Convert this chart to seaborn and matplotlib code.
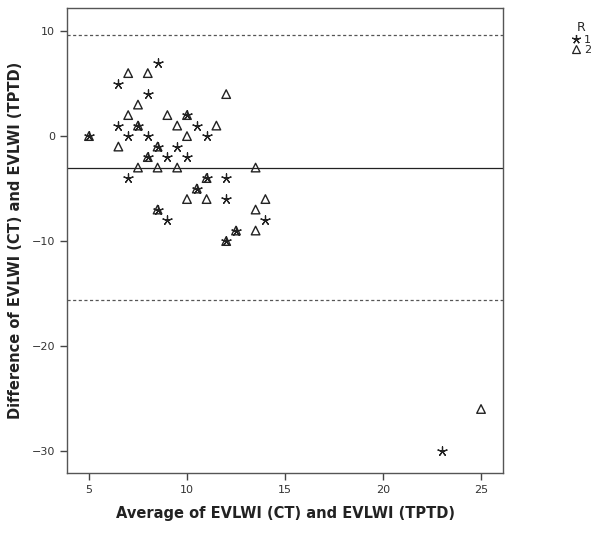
import pandas as pd
import matplotlib
matplotlib.use('Agg')
import matplotlib.pyplot as plt
from matplotlib.lines import Line2D
import seaborn as sns

# Bland-Altman data
star_avg = [8.5, 6.5, 8, 10, 6.5, 7.5, 10.5, 5, 7, 8, 11, 8.5, 9.5, 8, 9, 10,
            7, 11, 12, 10.5, 12, 8.5, 9, 14, 12.5, 12, 23]
star_diff = [7, 5, 4, 2, 1, 1, 1, 0, 0, 0, 0, -1, -1, -2, -2, -2,
             -4, -4, -4, -5, -6, -7, -8, -8, -9, -10, -30]
tri_avg = [7, 8, 12, 7.5, 7, 9, 10, 7.5, 9.5, 11.5, 5, 10, 6.5, 8.5, 8,
           7.5, 8.5, 9.5, 13.5, 11, 10.5, 10, 11, 14, 8.5, 13.5, 12.5, 13.5, 12, 25]
tri_diff = [6, 6, 4, 3, 2, 2, 2, 1, 1, 1, 0, 0, -1, -1, -2,
            -3, -3, -3, -3, -4, -5, -6, -6, -6, -7, -7, -9, -9, -10, -26]

mean_diff = -3.0
upper_loa = 9.6
lower_loa = -15.6

df = pd.DataFrame({
    'avg': star_avg + tri_avg,
    'diff': star_diff + tri_diff,
    'R': ['1'] * len(star_avg) + ['2'] * len(tri_avg),
})

sns.set_style('white')
plt.rcParams['font.family'] = ['DejaVu Sans']

fig = plt.figure(figsize=(6, 5.34), dpi=100)
ax = fig.add_axes([0.1117, 0.1142, 0.7266, 0.8708])

star_marker = (5, 2, 0)
sns.scatterplot(data=df[df['R'] == '2'], x='avg', y='diff', marker='^', s=38,
                facecolor='none', edgecolor='#222222', linewidth=1.0, ax=ax, legend=False)
sns.scatterplot(data=df[df['R'] == '1'], x='avg', y='diff', marker=star_marker, s=45,
                color='#222222', linewidth=0.9, ax=ax, legend=False)

ax.axhline(mean_diff, color='#222222', linewidth=0.9)
ax.axhline(upper_loa, color='#555555', linewidth=0.9, linestyle=(0, (2.5, 2)))
ax.axhline(lower_loa, color='#555555', linewidth=0.9, linestyle=(0, (2.5, 2)))

ax.set_xlim(3.88, 26.12)
ax.set_ylim(-32.1, 12.2)
ax.set_xticks([5, 10, 15, 20, 25])
ax.set_yticks([-30, -20, -10, 0, 10])

for sp in ax.spines.values():
    sp.set_color('#555555')
    sp.set_linewidth(1.0)
ax.tick_params(direction='out', length=5, width=1, color='#444444',
               labelsize=8, labelcolor='#333333', left=True, bottom=True)

ax.set_xlabel('Average of EVLWI (CT) and EVLWI (TPTD)', fontsize=10.5,
              fontweight='bold', color='#222222', labelpad=8)
ax.set_ylabel('Difference of EVLWI (CT) and EVLWI (TPTD)', fontsize=10.5,
              fontweight='bold', color='#222222', labelpad=6)

handles = [
    Line2D([], [], linestyle='none', marker=star_marker, markersize=6.5,
           color='#222222', markeredgewidth=0.9),
    Line2D([], [], linestyle='none', marker='^', markersize=6,
           markerfacecolor='none', markeredgecolor='#222222', markeredgewidth=0.9),
]
fig.legend(handles, ['1', '2'], title='R', loc='upper left',
           bbox_to_anchor=(0.94, 0.975), frameon=False, fontsize=8,
           title_fontsize=9, handlelength=0.8, handletextpad=0.3,
           labelspacing=0.05, borderpad=0.2)

fig.savefig('out.png', dpi=100)
